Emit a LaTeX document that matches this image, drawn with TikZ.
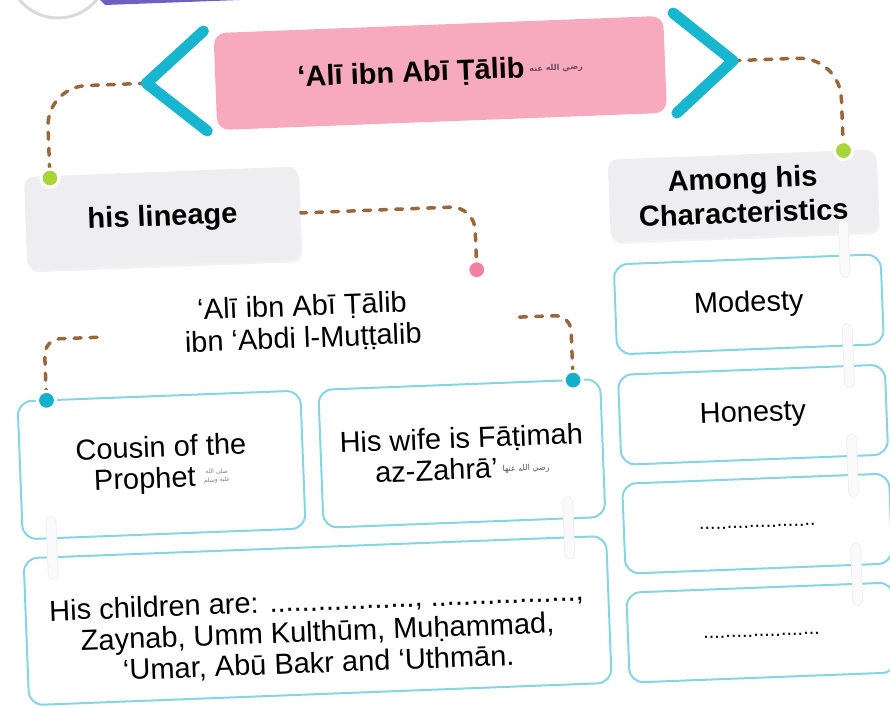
\documentclass[tikz,border=0pt]{standalone}
\usepackage{fontspec}
\setmainfont{Liberation Sans}
\newfontfamily\arabfont[Script=Arabic]{DejaVu Sans}
\TeXXeTstate=1
\usetikzlibrary{shadows}
\definecolor{pinkbox}{HTML}{F7A9BD}
\definecolor{chev}{HTML}{17B5CE}
\definecolor{brownd}{HTML}{9A673A}
\definecolor{greendot}{HTML}{A8D53A}
\definecolor{pinkdot}{HTML}{F47FA4}
\definecolor{cyandot}{HTML}{12B0CC}
\definecolor{boxcyan}{HTML}{86D5E4}
\definecolor{graybox}{HTML}{EEEEF1}
\definecolor{purplebar}{HTML}{6E5FC2}
\definecolor{honcol}{HTML}{6A4A5A}
\newcommand{\honm}{{\arabfont\fontsize{8}{8}\selectfont\color{honcol}\raisebox{6pt}{\beginR رضي الله عنه\endR}}}
\newcommand{\honf}{{\arabfont\fontsize{8}{8}\selectfont\color{honcol}\raisebox{6pt}{\beginR رضي الله عنها\endR}}}
\newcommand{\sawglyph}{{\arabfont\fontsize{6}{7}\selectfont\color{gray}\raisebox{4pt}{\shortstack{\beginR صلى الله\endR\\\beginR عليه وسلم\endR}}}}
\newcommand{\dotsrow}{{\fontsize{20}{20}\selectfont\strut.....................}}
\pgfdeclarelayer{bg}
\pgfsetlayers{bg,main}
\begin{document}
\begin{tikzpicture}[x=1pt,y=-1pt,
  txt/.style={font=\fontsize{29}{31}\selectfont, align=center, inner sep=0pt},
  btxt/.style={font=\bfseries\fontsize{29}{34}\selectfont, align=center, inner sep=0pt},
  cbox/.style={draw=boxcyan, line width=2pt, rounded corners=14pt, fill=white, inner sep=0pt},
  gbox/.style={fill=graybox, rounded corners=10pt, inner sep=0pt,
    drop shadow={opacity=0.10, shadow xshift=1.5pt, shadow yshift=-2.5pt}},
  conn/.style={draw=brownd, line width=3.5pt, line cap=round, dash pattern=on 7pt off 9pt},
  chevron/.style={draw=chev, line width=11pt, line cap=round, line join=round},
  dotn/.style={circle, minimum size=18pt, inner sep=0pt, draw=white, line width=3pt},
  linkline/.style={draw=gray!13, double=gray!4, double distance=9pt, line width=0.8pt,
    line cap=round, shorten <=-18pt, shorten >=-18pt},
]
\begin{pgfonlayer}{bg}
\fill[white] (0,0) rectangle (890,708);
\end{pgfonlayer}
\useasboundingbox (0,0) rectangle (890,708);
% cut-off pieces at the top-left edge
\draw[gray!30, line width=3pt] (58,-32) circle[radius=50];
\fill[purplebar] (100,0) -- (240,0) -- (105,5) -- cycle;

\begin{scope}[rotate around={2.2:(445,354)}, transform shape]
% title
\node[fill=pinkbox, rounded corners=12pt, minimum width=450pt, minimum height=97pt,
      btxt] (title) at (451,73) {‘Alī ibn Abī Ṭālib\,\honm};
\coordinate (lv) at (157,72);
\coordinate (rv) at (744,72);
\draw[chevron] (216,22) -- (lv) -- (216,122);
\draw[chevron] (686,22) -- (rv) -- (686,122);

% grey headers
\node[gbox, btxt, minimum width=274pt, minimum height=93pt] (lin) at (168,207.5) {his lineage};
\node[gbox, btxt, minimum width=268pt, minimum height=82pt] (chr) at (749,207) {Among his\\Characteristics};

% lineage text
\node[txt, font=\fontsize{29}{32}\selectfont] (lintxt) at (304,318)
  {‘Alī ibn Abī Ṭālib\\ibn ‘Abdi l-Muṭṭalib};
\coordinate (lt1) at (98,324);
\coordinate (lt2) at (521,320);

% left boxes
\node[cbox, txt, minimum width=283pt, minimum height=138pt] (cous) at (157.5,454)
  {Cousin of the\\Prophet \sawglyph};
\node[cbox, txt, minimum width=282pt, minimum height=138pt] (wife) at (458,454)
  {His wife is Fāṭimah\\az-Zahrā’\,\honf};
\node[cbox, minimum width=583pt, minimum height=147pt] (kids) at (307.5,615.5) {};
\node[txt] (kidstxt) at (307,628)
  {His children are: .................., ..................,\\
   Zaynab, Umm Kulthūm, Muḥammad,\\
   ‘Umar, Abū Bakr and ‘Uthmān.};

% right column
\node[cbox, txt, minimum width=267pt, minimum height=90pt] (mod) at (750.5,316) {Modesty};
\node[cbox, txt, minimum width=267pt, minimum height=90pt] (hon) at (750.5,426.5) {Honesty};
\node[cbox, txt, minimum width=267pt, minimum height=90pt] (b3) at (750.5,535.5) {\dotsrow};
\node[cbox, txt, minimum width=267pt, minimum height=90pt] (b4) at (750.5,644.5) {\dotsrow};

% ring links between boxes
\draw[linkline, shorten <=-8pt] ([xshift=99pt]chr.south) -- ([xshift=97.5pt]mod.north);
\draw[linkline] ([xshift=97.5pt]mod.south) -- ([xshift=97.5pt]hon.north);
\draw[linkline] ([xshift=97.5pt]hon.south) -- ([xshift=97.5pt]b3.north);
\draw[linkline] ([xshift=97.5pt]b3.south) -- ([xshift=97.5pt]b4.north);
\draw[linkline] ([xshift=-112.5pt]cous.south) -- ([xshift=-262.5pt]kids.north);
\draw[linkline] ([xshift=104pt]wife.south) -- ([xshift=254.5pt]kids.north);

% dots
\node[dotn, fill=greendot] (g1) at (57,163) {};
\node[dotn, fill=greendot] (g2) at (851,166) {};
\node[dotn, fill=pinkdot] (p1) at (480,271) {};
\node[dotn, fill=cyandot] (c1) at (45,385) {};
\node[dotn, fill=cyandot] (c2) at (572,385) {};

% dashed connectors
\begin{pgfonlayer}{bg}
\draw[conn, rounded corners=40pt] (lv) -| (g1);
\draw[conn, rounded corners=42pt] (rv) -| (g2);
\draw[conn, rounded corners=24pt] (lin.east) -| (p1);
\draw[conn, rounded corners=16pt] (lt1) -| (c1);
\draw[conn, rounded corners=16pt] (lt2) -| (c2);
\end{pgfonlayer}
\end{scope}
\end{tikzpicture}
\end{document}
